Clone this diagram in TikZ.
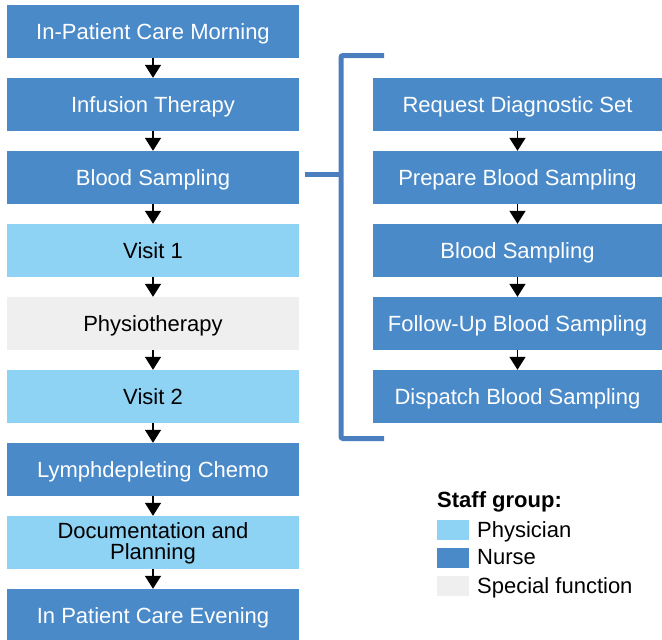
\documentclass[tikz,border=0pt]{standalone}
\usepackage{fontspec}
\setmainfont{Liberation Sans}
\usetikzlibrary{arrows.meta}
\definecolor{nurse}{RGB}{74,138,201}
\definecolor{phys}{RGB}{142,210,244}
\definecolor{spec}{RGB}{239,239,239}
\definecolor{brack}{RGB}{74,126,190}
\begin{document}
\begin{tikzpicture}[x=1pt,y=-1pt,
  box/.style={minimum width=292pt, minimum height=53pt, inner sep=0pt, font=\fontsize{22}{22}\selectfont, align=center},
  one/.style={text height=16pt, text depth=0pt},
  rbox/.style={box, one, minimum width=289pt},
  nursebox/.style={fill=nurse, text=white},
  physbox/.style={fill=phys, text=black},
  specbox/.style={fill=spec, text=black},
  flow/.style={-{Triangle[width=16pt,length=13pt]}, line width=1.6pt, black},
  brk/.style={draw=brack, line width=5pt, rounded corners=2pt},
  legtext/.style={anchor=base west, inner sep=0pt, font=\fontsize{22}{22}\selectfont},
  swatch/.style={minimum width=32pt, minimum height=20pt, inner sep=0pt, anchor=north west}
]
\useasboundingbox (0,0) rectangle (662,640);
% left column
\node[box,one,nursebox] (l1) at (153,31.5) {In-Patient Care Morning};
\node[box,one,nursebox] (l2) at (153,104.5) {Infusion Therapy};
\node[box,one,nursebox] (l3) at (153,177.5) {Blood Sampling};
\node[box,one,physbox] (l4) at (153,250.5) {Visit 1};
\node[box,one,specbox] (l5) at (153,323.5) {Physiotherapy};
\node[box,one,physbox] (l6) at (153,396.5) {Visit 2};
\node[box,one,nursebox] (l7) at (153,469.5) {Lymphdepleting Chemo};
\node[box,physbox] (l8) at (153,542.5) {\rule{0pt}{17pt}Documentation and\\[-1pt]Planning};
\node[box,one,nursebox] (l9) at (153,615.5) {In Patient Care Evening};
\foreach \a/\b in {l1/l2,l2/l3,l3/l4,l4/l5,l5/l6,l6/l7,l7/l8,l8/l9}
  \draw[flow] (\a.south) -- (\b.north);
% right column
\node[rbox,nursebox] (r1) at (517.5,104.5) {Request Diagnostic Set};
\node[rbox,nursebox] (r2) at (517.5,177.5) {Prepare Blood Sampling};
\node[rbox,nursebox] (r3) at (517.5,250.5) {Blood Sampling};
\node[rbox,nursebox] (r4) at (517.5,323.5) {Follow-Up Blood Sampling};
\node[rbox,nursebox] (r5) at (517.5,396.5) {Dispatch Blood Sampling};
\foreach \a/\b in {r1/r2,r2/r3,r3/r4,r4/r5}
  \draw[flow] (\a.south) -- (\b.north);
% bracket
\coordinate (bt) at (384,55.5);
\coordinate (bb) at (384,438.5);
\draw[brk] (bt) -- (341,55.5) -- (341,438.5) -- (bb);
\coordinate (bj) at (341,174);
\draw[draw=brack, line width=5pt] ([shift={(6,-3.5)}]l3.east) -- (bj);
% legend
\node[anchor=base west, inner sep=0pt, font=\fontsize{22}{22}\selectfont\bfseries] (lt) at (437,507) {Staff group:};
\node[swatch, fill=phys] (s1) at (437,520) {};
\node[swatch, fill=nurse] (s2) at (437,548) {};
\node[swatch, fill=spec] (s3) at (437,576) {};
\node[legtext] (t1) at (477,537) {Physician};
\node[legtext] (t2) at (477,564) {Nurse};
\node[legtext] (t3) at (477,593) {Special function};
\end{tikzpicture}
\end{document}
